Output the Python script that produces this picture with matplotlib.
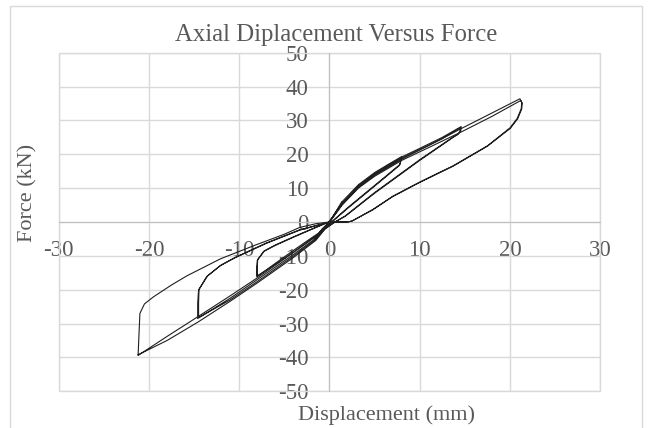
import matplotlib
matplotlib.use("Agg")
import matplotlib.pyplot as plt
from matplotlib.patches import Rectangle

# hysteresis data: displacement (mm), force (kN)
# cycles at +/-1.5 mm
disp_c1 = [0, 0.5, 1.0, 1.4, 1.2, 0.6, 0.0, -0.6, -1.2, -1.7, -1.5, -0.8, 0.0,
           0.5, 1.0, 1.45, 1.25, 0.6, 0.0, -0.6, -1.2, -1.65, -1.45, -0.7, 0.0]
force_c1 = [0, 2.1, 4.3, 6.0, 4.9, 2.4, 0.3, -1.7, -3.5, -5.2, -4.4, -2.0, 0.0,
            2.0, 4.1, 5.8, 4.7, 2.2, 0.2, -1.8, -3.6, -5.0, -4.2, -1.9, 0.0]

# cycles at +/-8 mm
disp_c8 = [0, 0.7, 1.4, 3.2, 5.0, 6.5, 8.05, 7.8, 6.0, 4.0, 2.0, 0.6, 0.0,
           -1.0, -2.0, -4.0, -6.0, -8.05, -8.05, -8.0, -7.3, -6.0, -4.0, -2.0, -0.5, 0.0,
           0.7, 1.4, 3.2, 5.0, 6.5, 8.0, 7.75, 6.0, 4.0, 2.0, 0.6, 0.0,
           -1.0, -2.0, -4.0, -6.0, -8.0, -8.0, -7.95, -7.2, -6.0, -4.0, -2.0, -0.5, 0.0]
force_c8 = [0, 3.0, 6.0, 11.0, 14.6, 17.0, 19.4, 17.0, 13.0, 8.6, 4.2, 0.9, -0.6,
            -2.9, -4.7, -8.4, -12.2, -16.2, -13.5, -11.3, -8.7, -6.9, -4.5, -2.2, -0.5, 0.0,
            2.7, 5.4, 10.4, 14.0, 16.6, 19.0, 16.7, 12.8, 8.4, 4.0, 0.8, -0.7,
            -3.2, -5.1, -8.9, -12.6, -15.9, -13.3, -11.1, -8.5, -6.8, -4.4, -2.1, -0.4, 0.0]

# cycles at +/-14.6 mm
disp_c14 = [0, 0.7, 1.4, 3.2, 5.0, 8.0, 10.5, 12.5, 14.6, 14.55, 14.3, 13.8, 10.0, 5.0, 1.75, 0.6,
            -0.5, -1.5, -4.0, -8.0, -11.0, -14.6, -14.6, -14.5, -13.6, -12.1, -10.5, -7.0, -3.3, -0.7, 0.0,
            0.7, 1.4, 3.2, 5.0, 8.0, 10.5, 12.5, 14.5, 14.45, 14.2, 13.7, 10.0, 5.0, 1.75, 0.6,
            -0.5, -1.5, -4.0, -8.0, -11.0, -14.5, -14.5, -14.45, -13.5, -12.0, -10.4, -7.0, -3.3, -0.7, 0.0]
force_c14 = [0, 2.8, 5.6, 10.8, 14.4, 19.2, 22.4, 25.0, 28.2, 27.0, 26.1, 25.3, 18.4, 8.7, 1.8, 0.0,
             -1.9, -4.8, -9.6, -17.0, -22.5, -28.5, -24.0, -20.1, -16.1, -12.9, -10.6, -6.3, -2.4, -0.5, 0.0,
             2.6, 5.2, 10.4, 14.0, 18.8, 22.0, 24.6, 27.8, 26.7, 25.8, 25.0, 18.2, 8.5, 1.7, 0.0,
             -2.1, -5.2, -10.1, -17.6, -23.0, -28.2, -23.8, -19.9, -15.9, -12.7, -10.4, -6.2, -2.3, -0.5, 0.0]

# cycles at +/-21 mm
disp_c21 = [0, 0.7, 1.4, 3.2, 5.0, 8.0, 11.0, 14.6, 18.0, 21.1,
            21.3, 21.25, 20.8, 20.0, 17.5, 13.7, 10.0, 7.0, 4.8, 2.5, 2.0, 0.3,
            -0.5, -1.5, -4.0, -8.0, -11.0, -14.6, -18.0, -21.2,
            -21.1, -21.0, -20.5, -19.5, -17.5, -15.8, -12.1, -8.4, -5.0, -3.3, -1.5, 0.0,
            0.7, 1.4, 3.2, 5.0, 8.0, 11.0, 14.6, 18.0, 21.2,
            21.35, 21.3, 20.85, 20.05, 17.5, 13.7, 10.0, 7.0, 4.8, 2.5, 2.0, 0.3,
            -0.5, -1.5, -4.0, -8.0, -11.0, -14.6, -18.0, -21.2]
force_c21 = [0, 2.6, 5.2, 10.3, 13.9, 18.6, 22.6, 27.6, 32.2, 36.4,
             35.3, 33.5, 30.6, 27.8, 22.5, 16.6, 11.8, 7.6, 3.7, 0.3, 0.0, 0.0,
             -1.4, -4.3, -9.0, -16.5, -21.8, -28.0, -33.8, -39.4,
             -33.0, -27.0, -24.2, -22.1, -18.6, -15.9, -10.9, -7.0, -3.6, -1.6, -0.5, 0.0,
             2.5, 5.0, 10.0, 13.5, 18.2, 22.0, 26.6, 31.2, 35.9,
             35.1, 33.4, 30.5, 27.7, 22.4, 16.5, 11.7, 7.5, 3.6, 0.3, 0.0, 0.0,
             -2.0, -5.4, -10.5, -18.0, -23.4, -29.6, -35.0, -39.2]

x_ticks = [-30, -20, -10, 0, 10, 20, 30]
y_ticks = [-50, -40, -30, -20, -10, 0, 10, 20, 30, 40, 50]

plt.rcParams["font.family"] = ["Liberation Serif", "DejaVu Serif"]
plt.rcParams["axes.unicode_minus"] = False
text_color = "#595959"
grid_color = "#D9D9D9"

fig = plt.figure(figsize=(6.49, 4.28), dpi=100)
ax = fig.add_axes([0.0904, 0.0857, 0.8345, 0.7911])

for d, f in [(disp_c1, force_c1), (disp_c8, force_c8),
             (disp_c14, force_c14), (disp_c21, force_c21)]:
    ax.plot(d, f, color="#1f1f1f", lw=0.8, zorder=3)

ax.set_xlim(-30, 30)
ax.set_ylim(-50, 50)
ax.set_xticks(x_ticks)
ax.set_yticks(y_ticks)
ax.grid(True, color=grid_color, lw=1.0, zorder=0)
ax.set_axisbelow(True)

# Excel-style axes crossing at the origin
ax.spines["left"].set_position(("data", 0))
ax.spines["bottom"].set_position(("data", 0))
ax.spines["left"].set_color("#BFBFBF")
ax.spines["bottom"].set_color("#BFBFBF")
ax.spines["top"].set_visible(False)
ax.spines["right"].set_visible(False)
ax.tick_params(axis="both", length=0, labelsize=16.5, labelcolor=text_color)
ax.tick_params(axis="x", pad=13)
ax.tick_params(axis="y", pad=15)
ax.add_patch(Rectangle((0, 0), 1, 1, transform=ax.transAxes, fill=False,
                       edgecolor=grid_color, lw=1.0, clip_on=False, zorder=1))

fig.text(0.518, 0.905, "Axial Diplacement Versus Force", ha="center", va="baseline",
         fontsize=17.8, color=text_color)
fig.text(0.596, 0.019, "Displacement (mm)", ha="center", va="baseline",
         fontsize=16, color=text_color)
fig.text(0.043, 0.55, "Force (kN)", ha="center", va="center", rotation=90,
         fontsize=16, color=text_color)

# chart border
fig.patches.append(Rectangle((10 / 649, -0.05), 632 / 649, 1.05 - 6 / 428,
                             transform=fig.transFigure, fill=False,
                             edgecolor=grid_color, lw=1.0))

fig.savefig("out.png", dpi=100)
